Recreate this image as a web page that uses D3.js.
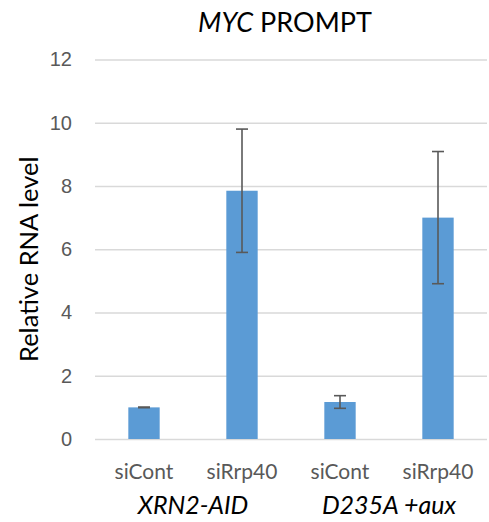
<!DOCTYPE html>
<html>
<head>
<meta charset="utf-8">
<script src="https://cdn.jsdelivr.net/npm/d3@7"></script>
<style>
  body { margin: 0; background: #fff; }
  svg { display: block; font-family: Lato, "Open Sans", sans-serif; }
</style>
</head>
<body>
<svg id="chart" width="489" height="522"></svg>
<script>
// Relative RNA level of the MYC PROMPT, mean ± error per condition
const categories = ["siCont", "siRrp40", "siCont ", "siRrp40 "];
const values = [1.0, 7.85, 1.17, 7.0];
const errors = [0.01, 1.95, 0.2, 2.09];
const groups = ["XRN2-AID", "D235A +aux"];
const yTicks = [0, 2, 4, 6, 8, 10, 12];

const svg = d3.select("#chart");
const margin = { left: 95, right: 2, top: 59.5, bottom: 83 };
const W = 489, H = 522;

const x = d3.scaleBand().domain(categories)
  .range([margin.left, W - margin.right]).paddingInner(0.68).paddingOuter(0.34);
const y = d3.scaleLinear().domain([0, 12]).range([H - margin.bottom, margin.top]);

// gridlines and tick labels
const yAxis = svg.append("g")
  .attr("transform", `translate(${margin.left},0)`)
  .call(d3.axisLeft(y).tickValues(yTicks).tickSize(-(W - margin.right - margin.left)).tickPadding(23));
yAxis.select(".domain").remove();
yAxis.selectAll(".tick line").attr("stroke", "#d9d9d9").attr("stroke-width", 1.3);
yAxis.selectAll(".tick text").attr("fill", "#595959").style("font-size", "20px");

// bars
svg.append("g").selectAll("rect").data(values).join("rect")
  .attr("x", (d, i) => x(categories[i]))
  .attr("width", x.bandwidth())
  .attr("y", d => y(d))
  .attr("height", d => y(0) - y(d))
  .attr("fill", "#5b9bd5");

// error bars
const eb = svg.append("g").attr("stroke", "#595959").attr("stroke-width", 1.6).attr("fill", "none");
values.forEach((v, i) => {
  const cx = x(categories[i]) + x.bandwidth() / 2;
  const e = errors[i];
  eb.append("line").attr("x1", cx).attr("x2", cx).attr("y1", y(v + e)).attr("y2", y(v - e));
  eb.append("line").attr("x1", cx - 6).attr("x2", cx + 6).attr("y1", y(v + e)).attr("y2", y(v + e));
  eb.append("line").attr("x1", cx - 6).attr("x2", cx + 6).attr("y1", y(v - e)).attr("y2", y(v - e));
});

// category labels
svg.append("g").selectAll("text").data(categories).join("text")
  .attr("x", d => x(d) + x.bandwidth() / 2)
  .attr("y", 479)
  .attr("text-anchor", "middle")
  .attr("fill", "#595959")
  .style("font-size", "21px")
  .text(d => d.trim());

// group labels
svg.append("g").selectAll("text").data(groups).join("text")
  .attr("x", (d, i) => (x(categories[2 * i]) + x(categories[2 * i + 1]) + x.bandwidth()) / 2)
  .attr("y", 514)
  .attr("text-anchor", "middle")
  .attr("fill", "#000")
  .style("font-size", "25px")
  .style("font-style", "italic")
  .text(d => d);

// title
const title = svg.append("text")
  .attr("x", 285).attr("y", 32)
  .attr("text-anchor", "middle")
  .attr("fill", "#000")
  .style("font-size", "27px");
title.append("tspan").style("font-style", "italic").text("MYC");
title.append("tspan").text(" PROMPT");

// y axis title
svg.append("text")
  .attr("transform", `translate(38,${(y(0) + y(12)) / 2 + 10}) rotate(-90)`)
  .attr("text-anchor", "middle")
  .attr("fill", "#000")
  .style("font-size", "25.5px")
  .text("Relative RNA level");
</script>
</body>
</html>
